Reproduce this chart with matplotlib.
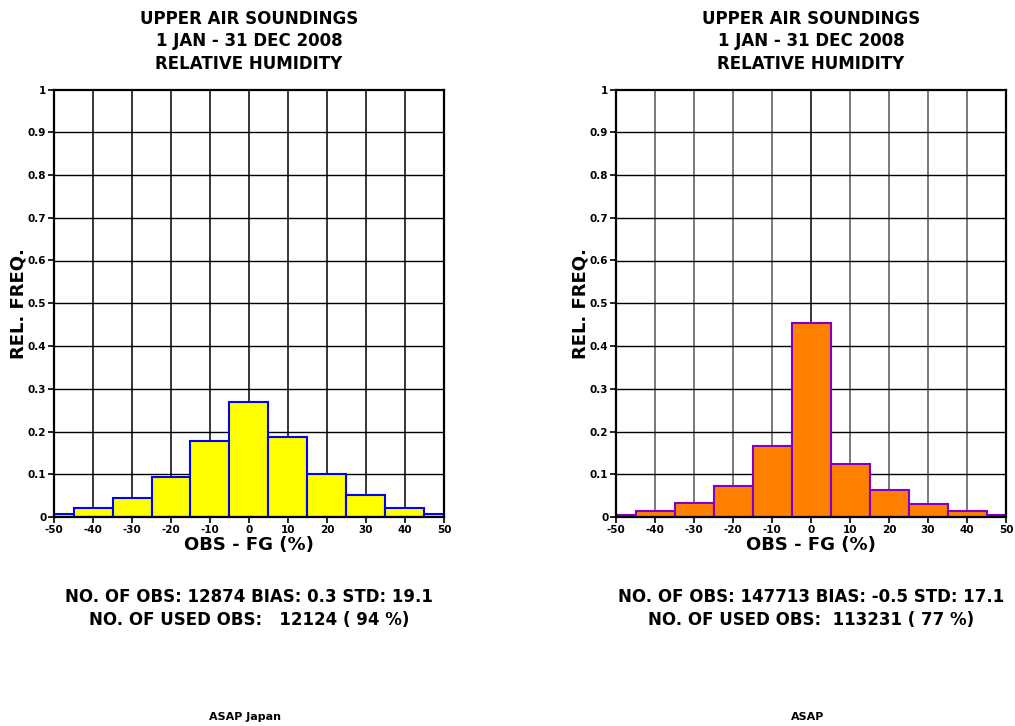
import numpy as np
import matplotlib
matplotlib.use("Agg")
import matplotlib.pyplot as plt

plt.rcParams['font.family'] = ['DejaVu Sans']
plt.rcParams['font.weight'] = 'bold'
plt.rcParams['axes.unicode_minus'] = False

# bin edges (OBS - FG, %)
edges = [-50, -45, -35, -25, -15, -5, 5, 15, 25, 35, 45, 50]

# relative frequencies per bin
freq_japan = [0.006, 0.021, 0.044, 0.093, 0.178, 0.270, 0.188, 0.101, 0.051, 0.022, 0.006]
freq_all = [0.005, 0.015, 0.032, 0.072, 0.165, 0.454, 0.125, 0.062, 0.031, 0.015, 0.005]

title_lines = "UPPER AIR SOUNDINGS\n1 JAN - 31 DEC 2008\nRELATIVE HUMIDITY"
stats_japan = "NO. OF OBS: 12874 BIAS: 0.3 STD: 19.1\nNO. OF USED OBS:   12124 ( 94 %)"
stats_all = "NO. OF OBS: 147713 BIAS: -0.5 STD: 17.1\nNO. OF USED OBS:  113231 ( 77 %)"
names = ["ASAP Japan", "ASAP"]

W, H = 1015, 726
fig = plt.figure(figsize=(W / 100, H / 100), dpi=100)


def panel(x0, freq, face, edge, vgrid, stats):
    ax = fig.add_axes([x0 / W, 1 - 517 / H, 390 / W, 427.5 / H])
    left = np.array(edges[:-1])
    width = np.diff(edges)
    ax.set_xlim(-50, 50)
    ax.set_ylim(0, 1)
    ax.set_xticks(np.arange(-50, 51, 10))
    ax.set_yticks(np.arange(0, 1.01, 0.1))
    ax.set_yticklabels(['0'] + ['%.1f' % v for v in np.arange(0.1, 0.95, 0.1)] + ['1'])
    for x in range(-40, 50, 10):
        ax.axvline(x, color=('black' if x == 0 else vgrid), lw=1.1, zorder=1)
    for y in np.arange(0.1, 1.0, 0.1):
        ax.axhline(y, color='black', lw=1.0, zorder=1)
    ax.bar(left, freq, width=width, align='edge', color=face,
           edgecolor=edge, linewidth=1.5, zorder=3)
    for s in ax.spines.values():
        s.set_linewidth(1.6)
        s.set_zorder(4)
    ax.tick_params(labelsize=7.5, length=4, width=1.2, pad=1.5)
    for lab in ax.get_xticklabels() + ax.get_yticklabels():
        lab.set_fontweight('bold')
    ax.set_xlabel("OBS - FG (%)", fontsize=13, fontweight='bold')
    ax.xaxis.set_label_coords(0.5, -(545.5 - 517) / 427.5)
    ax.xaxis.label.set_va('center')
    ax.set_ylabel("REL. FREQ.", fontsize=13, fontweight='bold')
    ax.yaxis.set_label_coords(-27 / 390, 0.5)
    cx = (x0 + 195) / W
    fig.text(cx, 1 - 41.5 / H, title_lines, ha='center', va='center',
             fontsize=12, fontweight='bold', linespacing=1.3)
    fig.text(cx, 1 - 608.5 / H, stats, ha='center', va='center',
             fontsize=12, fontweight='bold', linespacing=1.3)
    return ax


panel(54, freq_japan, '#ffff00', '#0000ff', 'black', stats_japan)
panel(616, freq_all, '#ff8000', '#8000c8', '#555555', stats_all)
fig.text(245 / W, 1 - 717 / H, names[0], ha='center', va='center',
         fontsize=8, fontweight='bold')
fig.text(808 / W, 1 - 717 / H, names[1], ha='center', va='center',
         fontsize=8, fontweight='bold')

fig.savefig("out.png", dpi=100)
